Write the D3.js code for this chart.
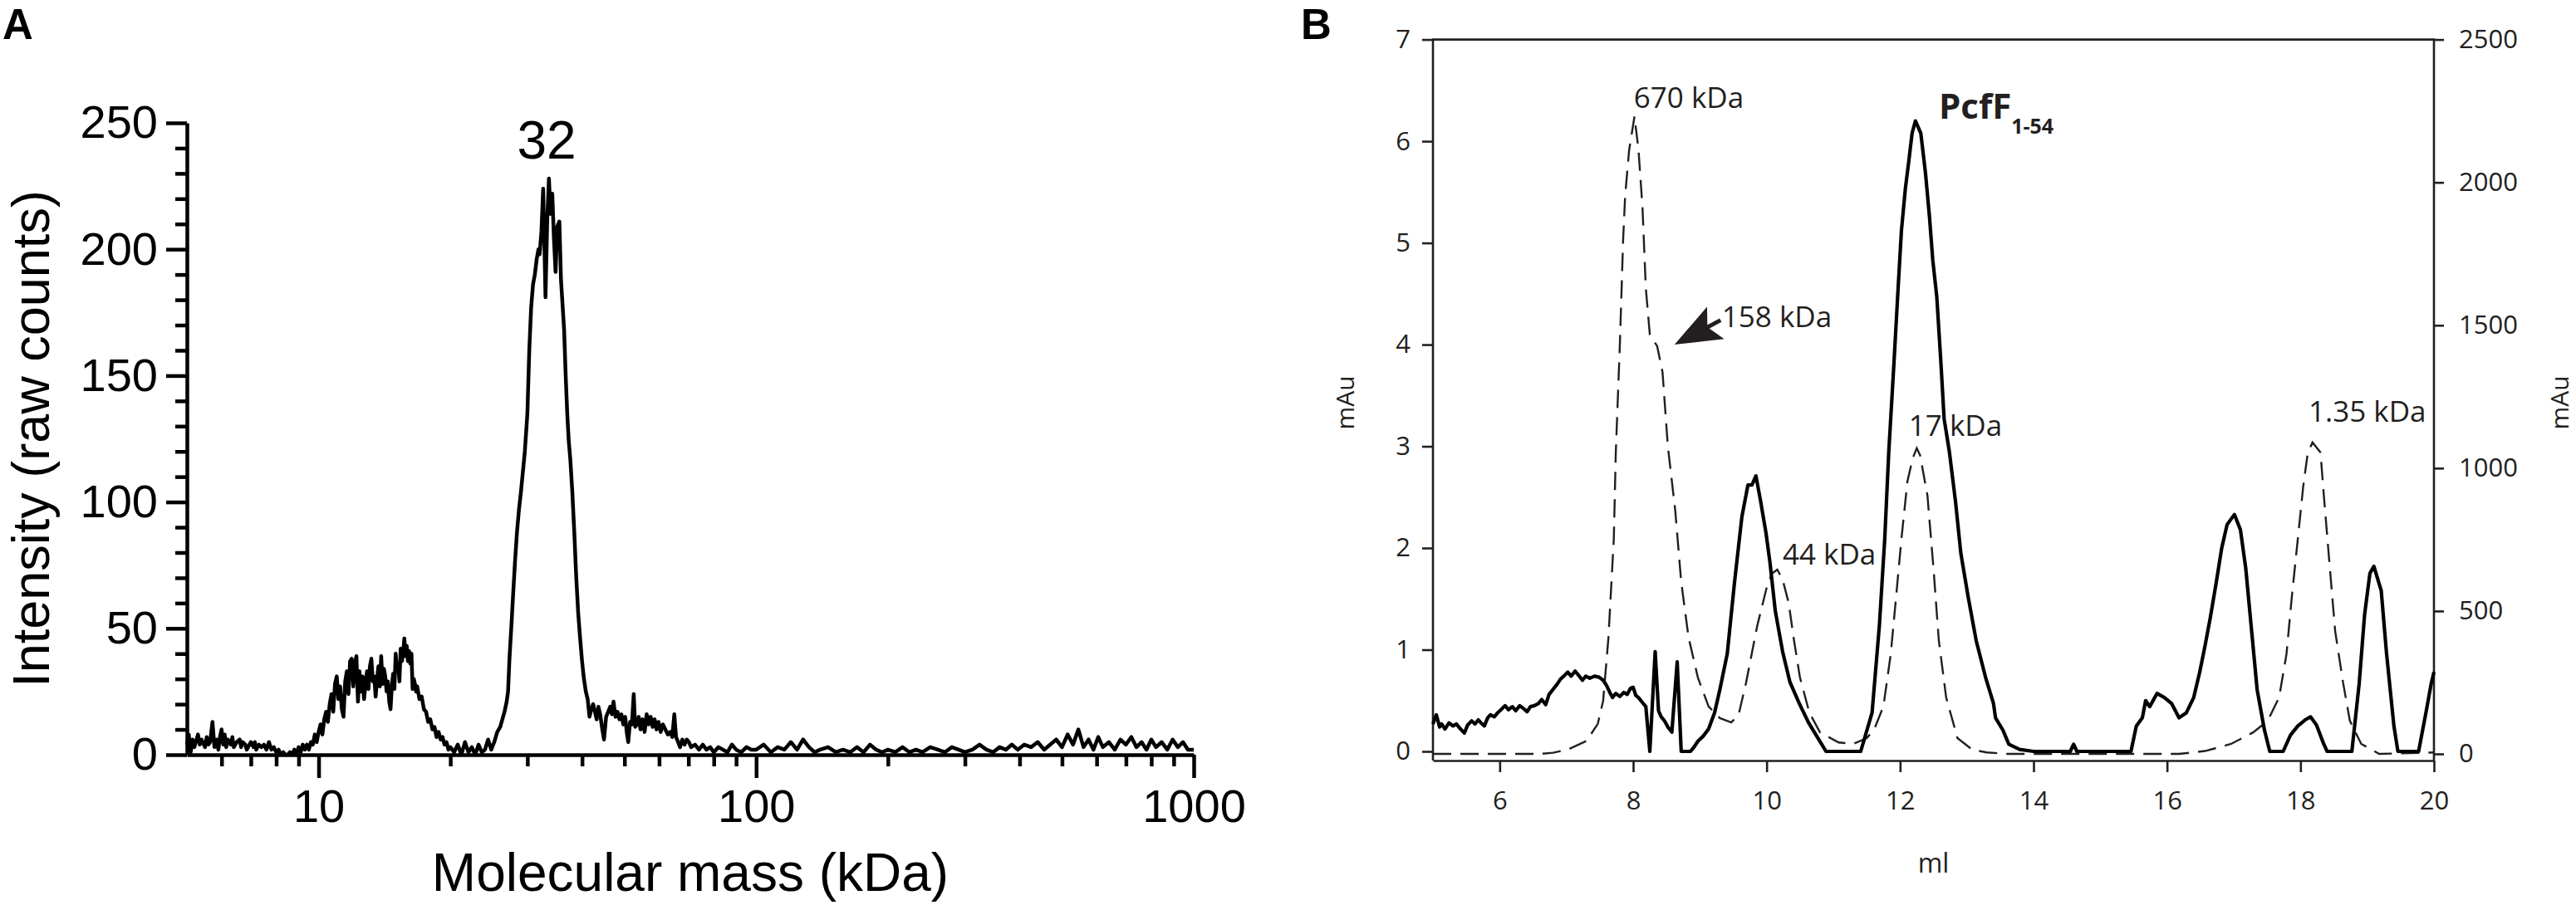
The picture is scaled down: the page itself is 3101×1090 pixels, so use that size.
<!DOCTYPE html>
<meta charset="utf-8">
<body style="margin:0;background:#fff">
<script src="https://d3js.org/d3.v7.min.js"></script>
<script>

// ---------- panel A : mass spectrum (kDa, raw counts) ----------
const spectrumA = [
  [5.0,4],[5.05,8],[5.1,1],[5.15,6],[5.2,3],[5.3,8],[5.35,4],[5.4,6],[5.5,3],[5.55,7],[5.6,4],[5.65,5],[5.72,13],[5.78,3],
  [5.85,6],[5.9,2],[5.95,7],[6.0,10],[6.05,4],[6.1,8],[6.15,3],[6.2,6],[6.3,4],[6.35,7],[6.4,3],[6.5,5],[6.6,6],[6.65,3],
  [6.7,5],[6.8,4],[6.85,2],[6.9,3],[7.0,5],[7.1,3],[7.15,5],[7.2,2],[7.3,4],[7.4,3],[7.5,4],[7.6,2],[7.7,5],[7.8,2],[7.9,3],
  [8.0,1],[8.1,2],[8.2,0],[8.3,1],[8.4,0],[8.5,0],[8.6,1],[8.7,0],[8.8,2],[8.9,0],[9.0,3],[9.1,1],[9.2,4],[9.3,2],[9.4,4],
  [9.5,2],[9.6,5],[9.7,4],[9.8,8],[9.9,5],
  [10.0,9],[10.1,12],[10.2,8],[10.3,14],[10.4,17],[10.5,13],[10.6,20],[10.7,24],[10.8,17],[10.9,28],[11.0,31],[11.1,22],
  [11.2,27],[11.3,18],[11.4,15],[11.5,29],[11.6,33],[11.7,24],[11.8,37],[11.9,38],[12.0,27],[12.1,36],[12.2,39],[12.3,21],
  [12.4,33],[12.5,25],[12.6,31],[12.7,22],[12.8,28],[12.9,33],[13.0,26],[13.1,35],[13.2,38],[13.3,29],[13.4,31],[13.5,23],
  [13.6,30],[13.7,35],[13.8,27],[13.9,39],[14.0,28],[14.1,34],[14.2,31],[14.3,25],[14.4,29],[14.5,21],[14.6,18],[14.7,27],
  [14.8,32],[14.9,26],[15.0,40],[15.1,33],[15.2,36],[15.3,29],[15.4,42],[15.5,37],[15.6,40],[15.7,46],[15.8,39],[15.9,43],
  [16.0,37],[16.1,41],[16.2,36],[16.3,40],[16.4,26],[16.5,30],[16.6,28],[16.7,25],[16.8,27],[17.0,22],[17.2,23],[17.4,18],
  [17.6,17],[17.8,13],[18.0,14],[18.2,10],[18.4,11],[18.6,7],[18.8,9],[19.0,6],[19.2,7],[19.4,4],[19.6,5],[19.8,2],
  [20.0,3],[20.4,1],[20.8,4],[21.2,0],[21.6,5],[22.0,1],[22.4,3],[22.8,0],[23.2,4],[23.6,1],[24.0,2],[24.4,6],[24.8,2],
  [25.2,5],[25.6,9],[26.0,11],[26.3,14],[26.6,17],[26.9,21],[27.1,25],[27.3,38],[27.6,52],[27.8,62],[28.1,76],[28.4,88],
  [28.7,97],[29.0,104],[29.3,112],[29.6,120],[30.0,135],[30.3,160],[30.6,177],[30.9,186],[31.2,190],[31.5,196],[31.8,200],
  [32.0,198],[32.3,207],[32.6,224],[32.8,203],[33.0,181],[33.3,211],[33.6,228],[33.9,214],[34.2,222],[34.5,204],[34.8,191],
  [35.1,209],[35.5,211],[35.8,188],[36.1,178],[36.4,168],[36.7,150],[37.0,135],[37.3,124],[37.6,117],[38.0,104],[38.4,88],
  [38.8,70],[39.2,56],[39.6,46],[40.0,37],[40.4,30],[40.8,25],[41.2,22],
  [41.6,15],[42.0,18],[42.4,20],[42.8,17],[43.2,14],[43.6,19],[44.0,16],[44.5,10],[44.9,6],[45.4,15],[45.9,17],[46.4,19],
  [46.8,16],[47.2,21],[47.7,15],[48.2,17],[48.7,14],[49.2,16],[49.7,12],[50.2,15],[50.6,9],[51.0,5],[51.5,13],[52.0,12],
  [52.5,24],[52.9,11],[53.4,12],[53.9,15],[54.4,10],[55.0,14],[55.6,9],[56.2,16],[56.8,12],[57.4,15],[58.0,11],[58.6,14],
  [59.2,10],[59.8,13],[60.5,9],[61.2,12],[62.0,10],[62.8,8],[63.6,9],[64.3,7],[65.0,16],[65.6,7],[66.3,5],[67.0,3],[67.8,6],
  [68.6,4],[69.4,6],[70.2,5],[71.0,3],[72.5,4],[74.0,2],[75.5,4],[77.0,2],[78.5,3],[80.0,1],[82.0,3],[84.0,2],[86.0,1],
  [88.0,4],[90.0,2],[92.5,1],[95.0,3],[97.5,2],
  [100,2],[104,4],[108,1],[112,3],[116,2],[120,5],[124,2],[128,6],[132,3],[136,1],[140,2],[146,3],[152,1],[158,2],[164,1],
  [170,3],[176,1],[182,4],[188,2],[194,1],[200,2],[208,1],[216,3],[224,1],[232,2],[240,1],[250,3],[260,2],[270,1],[280,3],
  [290,2],[300,1],[312,2],[324,4],[336,2],[348,1],[360,3],[372,2],[384,4],[396,2],[410,4],[425,3],[440,5],[455,2],[470,4],
  [485,6],[500,3],[515,8],[530,4],[545,10],[560,3],[575,6],[590,2],[605,7],[620,3],[640,5],[660,2],[680,6],[700,4],[720,7],
  [740,3],[760,5],[780,2],[800,6],[820,3],[845,5],[870,2],[895,6],[920,3],[945,5],[970,2],[1000,2]
];
const yTicksA = [0, 50, 100, 150, 200, 250];
const yMinorA = [10,20,30,40,60,70,80,90,110,120,130,140,160,170,180,190,210,220,230,240];
const xTicksA = [10, 100, 1000];
const xMinorA = [6,7,8,9,20,30,40,50,60,70,80,90,200,300,400,500,600,700,800,900];
const peakLabelA = [{text: "32", mass: 33.2, counts: 236}];

// ---------- panel B : size exclusion chromatogram (ml) ----------
// sample trace, left axis (mAu)
const sampleB = [
  [5.0,0.27],[5.05,0.36],[5.1,0.24],[5.13,0.27],[5.18,0.22],[5.24,0.28],[5.3,0.25],[5.35,0.27],[5.4,0.23],[5.47,0.18],
  [5.52,0.26],[5.58,0.30],[5.63,0.27],[5.68,0.31],[5.72,0.28],[5.77,0.25],[5.82,0.33],[5.86,0.36],[5.92,0.34],[5.97,0.38],
  [6.02,0.41],[6.08,0.45],[6.13,0.41],[6.19,0.44],[6.24,0.40],[6.3,0.45],[6.36,0.42],[6.41,0.39],[6.46,0.44],[6.52,0.45],
  [6.58,0.47],[6.63,0.51],[6.69,0.46],[6.74,0.56],[6.8,0.61],[6.86,0.66],[6.91,0.71],[6.96,0.74],[7.02,0.78],[7.07,0.74],
  [7.13,0.79],[7.18,0.75],[7.24,0.70],[7.29,0.74],[7.35,0.72],[7.42,0.74],[7.49,0.73],[7.55,0.70],[7.6,0.65],[7.65,0.58],
  [7.69,0.53],[7.74,0.57],[7.8,0.54],[7.86,0.58],[7.91,0.56],[7.96,0.62],[8.0,0.63],[8.04,0.55],[8.08,0.53],[8.14,0.48],
  [8.19,0.44],[8.25,0.0],[8.33,0.98],[8.38,0.40],[8.42,0.34],[8.47,0.30],[8.52,0.24],[8.58,0.19],[8.66,0.88],[8.72,0.0],
  [8.86,0.0],[8.92,0.05],[8.97,0.10],[9.05,0.15],[9.13,0.22],[9.22,0.38],[9.30,0.61],[9.41,0.96],[9.52,1.67],[9.63,2.31],
  [9.72,2.62],[9.78,2.62],[9.84,2.71],[9.91,2.46],[9.99,2.15],[10.05,1.86],[10.13,1.38],[10.24,0.98],[10.35,0.68],[10.49,0.47],
  [10.63,0.28],[10.77,0.13],[10.89,0.0],[11.41,0.0],[11.58,0.38],[11.69,1.24],[11.77,2.09],[11.83,2.94],[11.91,3.84],
  [11.97,4.55],[12.02,5.12],[12.08,5.54],[12.13,5.80],[12.18,6.08],[12.23,6.20],[12.31,6.08],[12.38,5.69],[12.44,5.26],
  [12.49,4.83],[12.55,4.47],[12.61,3.84],[12.66,3.27],[12.74,2.94],[12.83,2.46],[12.91,1.95],[13.02,1.52],[13.14,1.09],
  [13.28,0.73],[13.40,0.47],[13.43,0.33],[13.54,0.21],[13.63,0.07],[13.79,0.02],[14.0,0.0],[14.55,0.0],[14.6,0.07],
  [14.65,0.0],[15.46,0.0],[15.54,0.25],[15.63,0.33],[15.68,0.50],[15.74,0.44],[15.85,0.57],[15.96,0.53],[16.07,0.47],
  [16.18,0.33],[16.29,0.38],[16.40,0.53],[16.49,0.78],[16.57,1.04],[16.65,1.32],[16.74,1.67],[16.82,2.00],[16.90,2.23],
  [17.01,2.33],[17.10,2.18],[17.18,1.80],[17.26,1.24],[17.35,0.61],[17.46,0.21],[17.54,0.0],[17.74,0.0],[17.85,0.16],
  [17.96,0.25],[18.07,0.31],[18.15,0.34],[18.24,0.26],[18.35,0.07],[18.40,0.0],[18.77,0.0],[18.88,0.67],[18.96,1.34],
  [19.04,1.75],[19.10,1.82],[19.21,1.58],[19.29,0.96],[19.40,0.25],[19.46,0.0],[19.77,0.0],[19.88,0.38],[19.96,0.67],[20.0,0.78]
];
// calibration standards trace, right axis (mAu)
const standardsB = [
  [5.0,0],[6.6,0],[6.8,4],[7.02,15],[7.3,45],[7.47,105],[7.55,185],[7.63,408],[7.71,752],[7.74,1055],[7.8,1427],[7.85,1801],
  [7.88,1953],[7.94,2114],[8.02,2231],[8.08,2114],[8.14,1912],[8.19,1629],[8.25,1467],[8.36,1427],[8.44,1336],[8.52,1076],
  [8.63,853],[8.72,602],[8.83,408],[8.97,267],[9.13,166],[9.30,125],[9.47,110],[9.58,137],[9.69,247],[9.86,449],[10.0,581],
  [10.08,631],[10.16,645],[10.24,610],[10.33,529],[10.41,398],[10.50,267],[10.64,145],[10.80,75],[11.08,40],[11.30,35],
  [11.50,55],[11.61,85],[11.75,166],[11.86,349],[11.94,549],[12.02,752],[12.11,954],[12.19,1035],[12.25,1070],[12.30,1045],
  [12.41,904],[12.50,651],[12.58,398],[12.69,198],[12.86,55],[13.08,15],[13.30,5],[13.6,0],[16.18,0],[16.57,10],[16.96,35],
  [17.29,75],[17.51,116],[17.68,198],[17.79,349],[17.87,549],[17.96,752],[18.04,934],[18.11,1055],[18.18,1090],[18.30,1055],
  [18.35,904],[18.44,651],[18.52,429],[18.64,247],[18.74,116],[18.91,35],[19.18,0],[20.0,5]
];
const xTicksB = [6, 8, 10, 12, 14, 16, 18, 20];
const yTicksBL = [0, 1, 2, 3, 4, 5, 6, 7];
const yTicksBR = [0, 500, 1000, 1500, 2000, 2500];
const standardLabels = [
  {text: "670 kDa", ml: 8.01, mau: 6.33},
  {text: "158 kDa", ml: 9.33, mau: 4.17},
  {text: "44 kDa", ml: 10.24, mau: 1.84},
  {text: "17 kDa", ml: 12.13, mau: 3.10},
  {text: "1.35 kDa", ml: 18.12, mau: 3.24}
];
const proteinLabel = {name: "PcfF", sub: "1-54", ml: 12.58, mau: 6.22};
const arrow158 = {tipMl: 8.62, tipMau: 4.0, tailMl: 9.31, tailMau: 4.24};

// ---------- drawing ----------
const svg = d3.select("body").append("svg")
    .attr("width", 3101)
    .attr("height", 1090)
    .style("display", "block");

const fontA = "'Liberation Sans', Arial, Helvetica, sans-serif";
const fontB = "'Myriad Pro', 'Open Sans', sans-serif";
const inkB = "#231f20";

// ----- A -----
const xA = d3.scaleLog().domain([5, 1000]).range([225, 1437]);
const yA = d3.scaleLinear().domain([0, 250]).range([909, 148]);

const gA = svg.append("g").attr("font-family", fontA);

function styleAxisA(g) {
  g.selectAll("line").attr("stroke", "#000").attr("stroke-width", 4.5);
  g.selectAll("path").attr("stroke", "#000").attr("stroke-width", 4.5);
  g.selectAll("text").attr("fill", "#000").style("font-size", "56px").attr("font-family", fontA);
}

gA.append("g")
    .attr("transform", `translate(${xA.range()[0]},0)`)
    .call(d3.axisLeft(yA).tickValues(yMinorA).tickSize(14).tickFormat(""))
    .call(g => g.select(".domain").remove())
    .call(styleAxisA);

gA.append("g")
    .attr("transform", `translate(${xA.range()[0]},0)`)
    .call(d3.axisLeft(yA).tickValues(yTicksA).tickSize(25).tickPadding(10).tickSizeOuter(0).tickFormat(d3.format("d")))
    .call(styleAxisA);

gA.append("g")
    .attr("transform", `translate(0,${yA(0)})`)
    .call(d3.axisBottom(xA).tickValues(xMinorA).tickSize(14).tickFormat(""))
    .call(g => g.select(".domain").remove())
    .call(styleAxisA);

gA.append("g")
    .attr("transform", `translate(0,${yA(0)})`)
    .call(d3.axisBottom(xA).tickValues(xTicksA).tickSize(28).tickPadding(13).tickSizeOuter(0).tickFormat(d3.format("d")))
    .call(styleAxisA);

gA.append("path")
    .datum(spectrumA)
    .attr("fill", "none")
    .attr("stroke", "#000")
    .attr("stroke-width", 4.5)
    .attr("stroke-linejoin", "round")
    .attr("d", d3.line().x(d => xA(d[0])).y(d => yA(d[1])));

gA.selectAll(".peak")
  .data(peakLabelA)
  .join("text")
    .attr("x", d => xA(d.mass))
    .attr("y", d => yA(d.counts))
    .attr("text-anchor", "middle")
    .style("font-size", "64px")
    .text(d => d.text);

gA.append("text")
    .attr("x", d3.mean(xA.range()))
    .attr("y", 1073)
    .attr("text-anchor", "middle")
    .style("font-size", "64px")
    .text("Molecular mass (kDa)");

gA.append("text")
    .attr("transform", `translate(59,${d3.mean(yA.range())}) rotate(-90)`)
    .attr("text-anchor", "middle")
    .style("font-size", "63px")
    .text("Intensity (raw counts)");

gA.append("text")
    .attr("x", 3)
    .attr("y", 47)
    .style("font-size", "51px")
    .style("font-weight", "bold")
    .text("A");

// ----- B -----
const xB = d3.scaleLinear().domain([5, 20]).range([1725, 2930]);
const yBL = d3.scaleLinear().domain([0, 7]).range([905, 47.6]);
const yBR = d3.scaleLinear().domain([0, 2500]).range([908, 47.6]);
const baseB = 916;

const gB = svg.append("g").attr("font-family", fontB);

function styleAxisB(g) {
  g.selectAll("line").attr("stroke", inkB).attr("stroke-width", 2.6);
  g.selectAll("path").attr("stroke", inkB).attr("stroke-width", 2.6);
  g.selectAll("text").attr("fill", inkB).style("font-size", "31px").attr("font-family", fontB);
}

gB.append("g")
    .attr("transform", `translate(0,${baseB})`)
    .call(d3.axisBottom(xB).tickValues(xTicksB).tickSize(14).tickPadding(23).tickSizeOuter(0).tickFormat(d3.format("d")))
    .call(styleAxisB);

gB.append("g")
    .attr("transform", `translate(${xB.range()[0]},0)`)
    .call(d3.axisLeft(yBL).tickValues(yTicksBL).tickSize(13).tickPadding(14).tickFormat(d3.format("d")))
    .call(g => g.select(".domain").remove())
    .call(styleAxisB);

gB.append("g")
    .attr("transform", `translate(${xB.range()[1]},0)`)
    .call(d3.axisRight(yBR).tickValues(yTicksBR).tickSize(12).tickPadding(18).tickFormat(d3.format("d")))
    .call(g => g.select(".domain").remove())
    .call(styleAxisB);

// frame: left, top, right
gB.append("path")
    .attr("fill", "none")
    .attr("stroke", inkB)
    .attr("stroke-width", 2.6)
    .attr("d", `M${xB.range()[0]},${baseB}V${yBL.range()[1]}H${xB.range()[1]}V${baseB}`);

gB.append("path")
    .datum(standardsB)
    .attr("fill", "none")
    .attr("stroke", inkB)
    .attr("stroke-width", 2.4)
    .attr("stroke-dasharray", "22,11")
    .attr("d", d3.line().x(d => xB(d[0])).y(d => yBR(d[1])));

gB.append("path")
    .datum(sampleB)
    .attr("fill", "none")
    .attr("stroke", "#000")
    .attr("stroke-width", 4.2)
    .attr("stroke-linejoin", "round")
    .attr("d", d3.line().x(d => xB(d[0])).y(d => yBL(d[1])));

gB.selectAll(".std")
  .data(standardLabels)
  .join("text")
    .attr("x", d => xB(d.ml))
    .attr("y", d => yBL(d.mau))
    .attr("fill", inkB)
    .style("font-size", "35px")
    .text(d => d.text);

const pl = gB.append("text")
    .attr("x", xB(proteinLabel.ml))
    .attr("y", yBL(proteinLabel.mau))
    .attr("fill", inkB)
    .style("font-weight", "bold")
    .style("font-size", "42px");
pl.append("tspan").text(proteinLabel.name);
pl.append("tspan").attr("dy", 18).style("font-size", "25px").text(proteinLabel.sub);

// arrow pointing at the 158 kDa shoulder
{
  const tx = xB(arrow158.tipMl), ty = yBL(arrow158.tipMau);
  const ex = xB(arrow158.tailMl), ey = yBL(arrow158.tailMau);
  const ang = Math.atan2(ey - ty, ex - tx);
  const headLen = 56, headHalf = 22;
  const bx = tx + headLen * Math.cos(ang), by = ty + headLen * Math.sin(ang);
  const nx = -Math.sin(ang), ny = Math.cos(ang);
  gB.append("path")
      .attr("fill", inkB)
      .attr("d", `M${tx},${ty}L${bx + nx * headHalf},${by + ny * headHalf}L${tx + 0.8 * headLen * Math.cos(ang)},${ty + 0.8 * headLen * Math.sin(ang)}L${bx - nx * headHalf},${by - ny * headHalf}Z`);
  gB.append("line")
      .attr("x1", tx + 0.7 * headLen * Math.cos(ang)).attr("y1", ty + 0.7 * headLen * Math.sin(ang))
      .attr("x2", ex).attr("y2", ey)
      .attr("stroke", inkB).attr("stroke-width", 5);
}

gB.append("text")
    .attr("x", d3.mean(xB.range()))
    .attr("y", 1051)
    .attr("text-anchor", "middle")
    .attr("fill", inkB)
    .style("font-size", "32px")
    .text("ml");

gB.append("text")
    .attr("transform", "translate(1630,485) rotate(-90)")
    .attr("text-anchor", "middle")
    .attr("fill", inkB)
    .style("font-size", "30px")
    .text("mAu");

gB.append("text")
    .attr("transform", "translate(3092,485) rotate(-90)")
    .attr("text-anchor", "middle")
    .attr("fill", inkB)
    .style("font-size", "30px")
    .text("mAu");

gB.append("text")
    .attr("x", 1566)
    .attr("y", 47)
    .attr("font-family", fontA)
    .style("font-size", "51px")
    .style("font-weight", "bold")
    .text("B");

</script>
